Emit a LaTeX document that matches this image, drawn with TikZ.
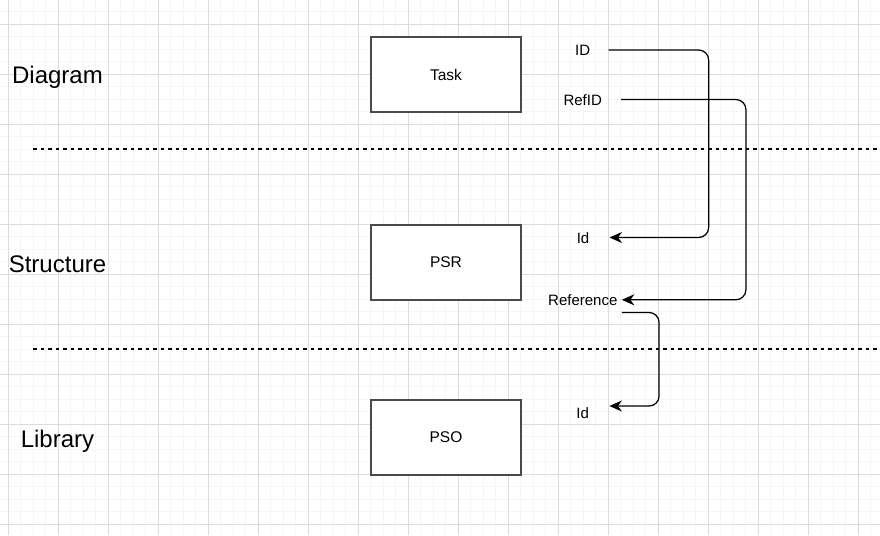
\documentclass[tikz,border=0pt]{standalone}
\usepackage{fontspec}
\setmainfont{Liberation Sans}
\usetikzlibrary{arrows.meta,calc}
\definecolor{gridminor}{HTML}{F5F5F5}
\definecolor{gridmajor}{HTML}{DCDCDC}
\definecolor{boxborder}{HTML}{4A4A4A}
\tikzset{
  box/.style={draw=boxborder,line width=1.25pt,fill=white,minimum width=150pt,minimum height=75pt,inner sep=0pt,font=\fontsize{15.5pt}{18pt}\selectfont},
  layer/.style={font=\fontsize{24pt}{28pt}\selectfont,anchor=base,inner sep=0pt},
  fieldlbl/.style={font=\fontsize{15pt}{18pt}\selectfont,inner sep=0pt,text height=11pt,text depth=0pt},
  conn/.style={line width=1.25pt,rounded corners=10pt,-{Stealth[length=12.5pt,width=11pt,inset=4pt]}},
  sep/.style={line width=1.25pt,dash pattern=on 3.75pt off 3.75pt}
}
\begin{document}
\begin{tikzpicture}[x=1pt,y=-1pt]
\useasboundingbox (0,0) rectangle (880,535);
\fill[white] (0,0) rectangle (880,535);
% grid
\foreach \i in {0,...,70} {
  \draw[gridminor,line width=1pt] ({8.3+12.5*\i},0) -- ({8.3+12.5*\i},535);
}
\foreach \i in {0,...,43} {
  \draw[gridminor,line width=1pt] (0,{-0.7+12.5*\i}) -- (880,{-0.7+12.5*\i});
}
\foreach \i in {0,...,17} {
  \draw[gridmajor,line width=1pt] ({8.3+50*\i},0) -- ({8.3+50*\i},535);
}
\foreach \i in {0,...,10} {
  \draw[gridmajor,line width=1pt] (0,{24.3+50*\i}) -- (880,{24.3+50*\i});
}
% separators
\coordinate (s1a) at (33,149);
\coordinate (s1b) at (880,149);
\coordinate (s2a) at (33,349);
\coordinate (s2b) at (880,349);
\draw[sep] (s1a) -- (s1b);
\draw[sep] (s2a) -- (s2b);
% layer labels
\node[layer] (diag) at (57.5,83.5) {Diagram};
\node[layer] (struct) at (57.5,272.5) {Structure};
\node[layer] (lib) at (57.5,447.5) {Library};
% boxes
\node[box] (task) at (446,74.5) {Task};
\node[box] (psr) at (446,262.5) {PSR};
\node[box] (pso) at (446,437.5) {PSO};
% field labels
\node[fieldlbl,minimum width=51.5pt] (ID) at (582.7,50) {ID};
\node[fieldlbl,minimum width=76.6pt] (RefID) at (582.7,99.5) {RefID};
\node[fieldlbl,minimum width=52.6pt] (Id1) at (583,237.5) {Id};
\node[fieldlbl,minimum width=77.6pt,minimum height=25pt] (Ref) at (582.8,299.8) {Reference};
\node[fieldlbl,minimum width=53pt] (Id2) at (582.7,412.8) {Id};
% connectors
\draw[conn] (ID.east) -- ++(100,0) |- (Id1.east);
\draw[conn] (RefID.east) -- ++(124.7,0) |- (Ref.east);
\draw[conn] (Ref.south east) -- ++(37.3,0) |- ([yshift=6.8pt]Id2.east);
\end{tikzpicture}
\end{document}
